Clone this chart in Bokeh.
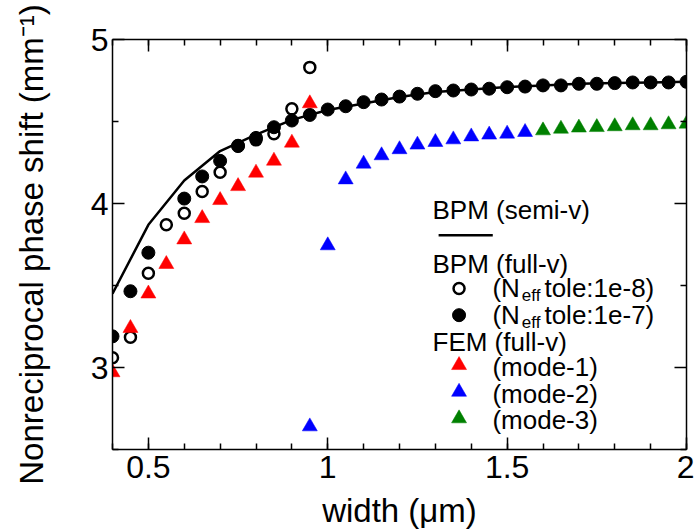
from bokeh.plotting import figure
from bokeh.models import LinearAxis, FixedTicker, Range1d, ColumnDataSource
from bokeh.core.properties import value
from bokeh.embed import file_html
from bokeh.resources import INLINE

FONT = "Liberation Sans"

# ---- data ----
semi_x = [0.4, 0.5, 0.6, 0.7, 0.8, 0.9, 1.0, 1.1, 1.2, 1.3, 1.4, 1.5, 1.6, 1.7, 1.8, 1.9, 2.0]
semi_y = [3.45, 3.87, 4.14, 4.32, 4.42, 4.51, 4.57, 4.61, 4.65, 4.68, 4.695, 4.71, 4.72, 4.73, 4.734, 4.738, 4.742]

tol7_x = [0.4, 0.45, 0.5, 0.6, 0.65, 0.7, 0.75, 0.8, 0.85, 0.9, 0.95, 1.0, 1.05, 1.1, 1.15, 1.2,
          1.25, 1.3, 1.35, 1.4, 1.45, 1.5, 1.55, 1.6, 1.65, 1.7, 1.75, 1.8, 1.85, 1.9, 1.95, 2.0]
tol7_y = [3.19, 3.465, 3.70, 4.03, 4.165, 4.26, 4.35, 4.40, 4.465, 4.506, 4.54, 4.573, 4.593, 4.618, 4.634, 4.652,
          4.669, 4.685, 4.689, 4.695, 4.70, 4.709, 4.713, 4.72, 4.72, 4.73, 4.73, 4.734, 4.738, 4.738, 4.738, 4.742]

tol8_x = [0.4, 0.45, 0.5, 0.55, 0.6, 0.65, 0.7, 0.75, 0.8, 0.85, 0.9, 0.95]
tol8_y = [3.06, 3.185, 3.575, 3.87, 3.94, 4.073, 4.19, 4.354, 4.388, 4.425, 4.577, 4.83]

mode1_x = [0.4, 0.45, 0.5, 0.55, 0.6, 0.65, 0.7, 0.75, 0.8, 0.85, 0.9, 0.95]
mode1_y = [2.97, 3.24, 3.45, 3.63, 3.78, 3.91, 4.02, 4.105, 4.187, 4.26, 4.37, 4.61]

mode2_x = [0.95, 1.0, 1.05, 1.1, 1.15, 1.2, 1.25, 1.3, 1.35, 1.4, 1.45, 1.5, 1.55]
mode2_y = [2.64, 3.744, 4.146, 4.242, 4.293, 4.33, 4.358, 4.374, 4.39, 4.408, 4.419, 4.425, 4.435]

mode3_x = [1.6, 1.65, 1.7, 1.75, 1.8, 1.85, 1.9, 1.95, 2.0]
mode3_y = [4.445, 4.455, 4.462, 4.465, 4.47, 4.476, 4.476, 4.482, 4.486]

x_major = [0.5, 1.0, 1.5, 2.0]
x_major_labels = ["0.5", "1", "1.5", "2"]
x_minor = [round(0.4 + 0.1 * i, 2) for i in range(17)]
y_major = [3.0, 4.0, 5.0]
y_major_labels = ["3", "4", "5"]
y_minor = [2.5, 3.5, 4.5]

x_title = "width (\u03bcm)"
y_title = "Nonreciprocal phase shift (mm\u207b\u00b9)"

# legend layout (data coordinates)
leg_head_x = 1.292
leg_mark_x = 1.366
leg_text_x = 1.459
leg_sub_x = 1.541
leg_tail_x = 1.604
leg_line_x = [1.309, 1.460]

p = figure(frame_width=574, frame_height=410,
           x_range=Range1d(0.4, 2.0), y_range=Range1d(2.5, 5.0),
           output_backend="svg", toolbar_location=None,
           x_axis_location=None, y_axis_location=None,
           min_border_left=112, min_border_right=8, min_border_top=39, min_border_bottom=78,
           background_fill_color="white", border_fill_color="white")
p.outline_line_color = None
p.grid.grid_line_color = None


def make_axis(ticks, minor, labels, show, title=None):
    ax = LinearAxis(ticker=FixedTicker(ticks=ticks, minor_ticks=minor))
    ax.axis_line_color = "black"
    ax.axis_line_width = 1.5
    ax.major_tick_in = 12
    ax.major_tick_out = 0
    ax.minor_tick_in = 6
    ax.minor_tick_out = 0
    ax.major_tick_line_width = 1.5
    ax.minor_tick_line_width = 1.5
    ax.major_tick_line_color = "black"
    ax.minor_tick_line_color = "black"
    if show:
        ax.major_label_overrides = {t: l for t, l in zip(ticks, labels)}
        ax.major_label_text_font = FONT
        ax.major_label_text_font_size = "32px"
        ax.major_label_text_color = "black"
    else:
        ax.major_label_text_font_size = "0px"
        ax.major_label_text_color = None
        ax.major_label_standoff = 0
    if title:
        ax.axis_label = title
        ax.axis_label_text_font = FONT
        ax.axis_label_text_font_size = "33px"
        ax.axis_label_text_font_style = "normal"
        ax.axis_label_text_color = "black"
    return ax


bottom = make_axis(x_major, x_minor, x_major_labels, True, x_title)
bottom.major_label_standoff = 6
bottom.axis_label_standoff = 11
left = make_axis(y_major, y_minor, y_major_labels, True, y_title)
left.major_label_standoff = 4
left.axis_label_standoff = 38
top = make_axis(x_major, x_minor, x_major_labels, False)
right = make_axis(y_major, y_minor, y_major_labels, False)
p.add_layout(bottom, "below")
p.add_layout(left, "left")
p.add_layout(top, "above")
p.add_layout(right, "right")

# ---- data marks ----
p.line(semi_x, semi_y, line_color="black", line_width=2.5)
p.scatter(tol7_x, tol7_y, marker="circle", size=13, fill_color="black", line_color="black", line_width=1)
p.scatter(tol8_x, tol8_y, marker="circle", size=11, fill_alpha=0.0,
          line_color="black", line_width=2.5)
p.scatter(mode1_x, mode1_y, marker="triangle", size=15, fill_color="red", line_color="red", line_width=0.5)
p.scatter(mode2_x, mode2_y, marker="triangle", size=15, fill_color="blue", line_color="blue", line_width=0.5)
p.scatter(mode3_x, mode3_y, marker="triangle", size=15, fill_color="green", line_color="green", line_width=0.5)

# ---- legend ----
txt = dict(text_font=value(FONT), text_font_size=value("26px"), text_color="black",
           text_baseline="middle", text_align="left")
heads = ColumnDataSource(dict(x=[leg_head_x] * 3, y=[3.959, 3.634, 3.157],
                              t=["BPM (semi-v)", "BPM (full-v)", "FEM (full-v)"]))
p.text(x="x", y="y", text="t", source=heads, **txt)
p.line(leg_line_x, [3.807, 3.807], line_color="black", line_width=2.5)

p.scatter([leg_mark_x], [3.482], marker="circle", size=11, fill_alpha=0.0, line_color="black", line_width=2.5)
p.scatter([leg_mark_x], [3.319], marker="circle", size=13, fill_color="black", line_color="black")
p.scatter([leg_mark_x], [3.014], marker="triangle", size=15, fill_color="red", line_color="red", line_width=0.5)
p.scatter([leg_mark_x], [2.851], marker="triangle", size=15, fill_color="blue", line_color="blue", line_width=0.5)
p.scatter([leg_mark_x], [2.689], marker="triangle", size=15, fill_color="green", line_color="green", line_width=0.5)

rows = ColumnDataSource(dict(x=[leg_text_x] * 5, y=[3.482, 3.319, 3.004, 2.841, 2.679],
                             t=["(N", "(N", "(mode-1)", "(mode-2)", "(mode-3)"]))
p.text(x="x", y="y", text="t", source=rows, **txt)
subs = ColumnDataSource(dict(x=[leg_sub_x] * 2, y=[3.482, 3.319], t=["eff", "eff"]))
p.text(x="x", y="y", text="t", source=subs, y_offset=7, text_font=value(FONT),
       text_font_size=value("17px"), text_color="black", text_baseline="middle", text_align="left")
tails = ColumnDataSource(dict(x=[leg_tail_x] * 2, y=[3.482, 3.319], t=["tole:1e-8)", "tole:1e-7)"]))
p.text(x="x", y="y", text="t", source=tails, **txt)

open("out.html", "w").write(file_html(p, INLINE))
